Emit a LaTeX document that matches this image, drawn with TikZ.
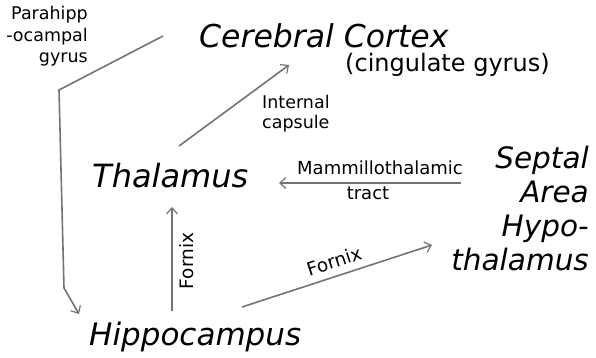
\documentclass[tikz,border=0pt]{standalone}
\usepackage{fontspec}
\setmainfont{DejaVu Sans}
\usetikzlibrary{arrows.meta}
\begin{document}
\begin{tikzpicture}[x=1pt,y=-1pt,
  big/.style={inner sep=0pt,font=\fontsize{31.5}{35}\selectfont\itshape},
  mid/.style={inner sep=0pt,font=\fontsize{24}{28}\selectfont},
  small/.style={inner sep=0pt,font=\fontsize{18}{20}\selectfont},
  conn/.style={draw=black!55,line width=1.6pt,-{Straight Barb[length=6pt,width=11pt,line width=1.2pt]}}]
\useasboundingbox (0,0) rectangle (596,357);
\node[small,align=right,anchor=north east,font=\fontsize{17.5}{21.5}\selectfont] (pg) at (88,6) {Parahipp\\-ocampal\\gyrus};
\node[big,anchor=base west] (cc) at (199,47) {Cerebral Cortex};
\node[mid,anchor=base west] (cg) at (345,71) {(cingulate gyrus)};
\node[small,align=left,anchor=north west,font=\fontsize{17.5}{20}\selectfont] (ic) at (262,95) {Internal\\capsule};
\node[big,anchor=base west,font=\fontsize{32}{35}\selectfont\itshape] (th) at (92,187) {Thalamus};
\node[small] (mt) at (380,168) {Mammillothalamic};
\node[small] (tr) at (368,193) {tract};
\node[big,align=right,anchor=north east,font=\fontsize{29.5}{34}\selectfont\itshape] (sa) at (589,146) {Septal\\Area\\Hypo-\\thalamus};
\node[big,anchor=base west,font=\fontsize{31}{35}\selectfont\itshape] (hc) at (89,345) {Hippocampus};
\node[small,rotate=90,font=\fontsize{18.5}{20}\selectfont] (fx1) at (187,261) {Fornix};
\node[small,rotate=18,font=\fontsize{18.5}{20}\selectfont] (fx2) at (334,261) {Fornix};
% coordinates
\coordinate (p1) at (163,36);
\coordinate (p2) at (59,90);
\coordinate (p3) at (64,288);
\coordinate (p4) at (79,314);
\coordinate (i1) at (179,146);
\coordinate (i2) at (289,65);
\coordinate (m1) at (461,183);
\coordinate (m2) at (279,183);
\coordinate (f1) at (172,311);
\coordinate (f2) at (172,207);
\coordinate (g1) at (242,307);
\coordinate (g2) at (432,245);
\draw[conn] (p1) -- (p2) -- (p3) -- (p4);
\draw[conn] (i1) -- (i2);
\draw[conn] (m1) -- (m2);
\draw[conn] (f1) -- (f2);
\draw[conn] (g1) -- (g2);
\end{tikzpicture}
\end{document}
